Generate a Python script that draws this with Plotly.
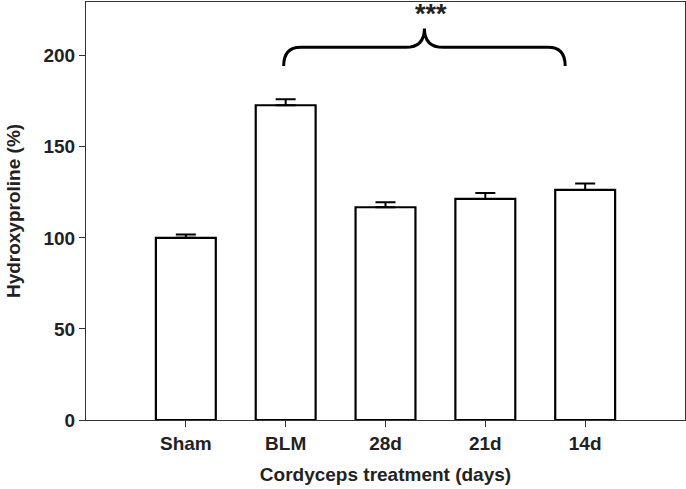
import plotly.graph_objects as go

categories = ["Sham", "BLM", "28d", "21d", "14d"]
values = [100.0, 172.8, 116.8, 121.4, 126.3]
errors = [1.8, 3.3, 2.8, 3.3, 3.6]
y_ticks = [0, 50, 100, 150, 200]

# significance brace (category positions, value levels)
brace_x0, brace_x1 = 1.98, 4.80
brace_y_end, brace_y_line, brace_y_tip = 194.3, 204.6, 215.0
stars_label = "***"

xpos = list(range(1, len(categories) + 1))
font = "Liberation Sans, Arial, sans-serif"

fig = go.Figure()
fig.add_trace(go.Bar(
    x=xpos, y=values, width=0.6,
    marker=dict(color="white", line=dict(color="black", width=2.2)),
    error_y=dict(type="data", array=errors, arrayminus=[0]*len(errors),
                 symmetric=False, color="black", thickness=2, width=10),
    showlegend=False,
))

xc = (brace_x0 + brace_x1) / 2
r = 0.17
r2 = 0.19
path = (f"M {brace_x0},{brace_y_end} "
        f"Q {brace_x0},{brace_y_line} {brace_x0 + r},{brace_y_line} "
        f"L {xc - r2},{brace_y_line} "
        f"Q {xc},{brace_y_line} {xc},{brace_y_tip} "
        f"Q {xc},{brace_y_line} {xc + r2},{brace_y_line} "
        f"L {brace_x1 - r},{brace_y_line} "
        f"Q {brace_x1},{brace_y_line} {brace_x1},{brace_y_end}")
fig.add_shape(type="path", path=path, xref="x", yref="y",
              line=dict(color="black", width=3))

fig.add_annotation(x=xc + 0.07, y=223.0, xref="x", yref="y", text=f"<b>{stars_label}</b>",
                   showarrow=False, font=dict(family=font, size=27, color="#222"),
                   yanchor="middle")

fig.update_layout(
    width=686, height=489,
    margin=dict(l=86, r=1, t=2, b=69, autoexpand=False),
    plot_bgcolor="white", paper_bgcolor="white",
    font=dict(family=font, color="#222"),
    bargap=0.4,
)
fig.update_xaxes(
    range=[0, 6], tickmode="array", tickvals=xpos, ticktext=[f"<b>{c}</b>" for c in categories],
    ticks="outside", ticklen=6, tickcolor="#333", tickwidth=1,
    showline=True, linecolor="#333", linewidth=1.2, mirror=True,
    showgrid=False, zeroline=False, automargin=False,
    tickfont=dict(size=19, family=font, color="#222"),
    title=dict(text="<b>Cordyceps treatment (days)</b>", font=dict(size=19, family=font, color="#222"),
               standoff=14),
)
fig.update_yaxes(
    range=[0, 229.5], tickmode="array", tickvals=y_ticks, ticktext=[f"<b>{t}</b>" for t in y_ticks],
    ticks="outside", ticklen=6, tickcolor="#333", tickwidth=1,
    showline=True, linecolor="#333", linewidth=1.2, mirror=True,
    showgrid=False, zeroline=False, automargin=False,
    tickfont=dict(size=19, family=font, color="#222"),
    title=dict(text="<b>Hydroxyproline (%)</b>", font=dict(size=19, family=font, color="#222"),
               standoff=17),
)

fig.write_html("out.html", config={"displayModeBar": False},
               post_script="document.body.style.margin='0';document.body.style.overflow='hidden';")
